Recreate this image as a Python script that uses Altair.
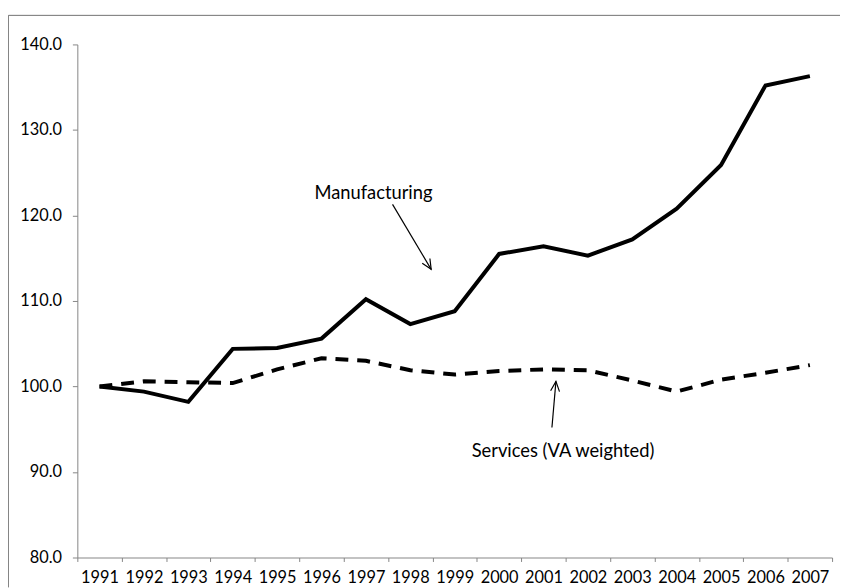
import altair as alt
import pandas as pd

years = [str(y) for y in range(1991, 2008)]
manufacturing = [100.0, 99.4, 98.2, 104.4, 104.5, 105.6, 110.2, 107.3, 108.8,
                 115.5, 116.4, 115.3, 117.2, 120.8, 125.9, 135.2, 136.3]
services = [100.0, 100.6, 100.5, 100.4, 102.0, 103.3, 103.0, 101.9, 101.4,
            101.8, 102.0, 101.9, 100.7, 99.4, 100.8, 101.6, 102.5]
y_ticks = [80, 90, 100, 110, 120, 130, 140]

# annotations (x in year units, y in index units)
label_text = ["Manufacturing", "Services (VA weighted)"]
label_x = [1997.17, 2001.44]
label_y = [122.6, 92.4]
arrow_x1 = [1997.6, 2001.19]
arrow_y1 = [121.3, 95.2]
arrow_x2 = [1998.47, 2001.28]
arrow_y2 = [113.7, 100.6]
arrow_angle = [59, 275]

FONT = "Lato"
GRAY = "#868686"
W, H = 762, 518

df = pd.DataFrame({"year": years * 2,
                   "value": manufacturing + services,
                   "series": ["Manufacturing"] * len(years) + ["Services"] * len(years)})

ydom = alt.Scale(domain=[80, 140], nice=False, zero=False)

xband = alt.X("year:O",
              scale=alt.Scale(type="band", paddingInner=0, paddingOuter=0),
              bandPosition=0.5,
              axis=alt.Axis(title=None, labelAngle=0, tickBand="extent", tickSize=4,
                            labelPadding=8, domainColor=GRAY, tickColor=GRAY,
                            labelColor="black", labelFont=FONT, labelFontSize=16.5,
                            grid=False))
yaxis = alt.Axis(title=None, values=y_ticks, format=".1f", tickSize=5,
                 labelPadding=11, domainColor=GRAY, tickColor=GRAY,
                 labelColor="black", labelFont=FONT, labelFontSize=16.5,
                 grid=False)
yax = alt.Y("value:Q", scale=ydom, axis=yaxis)

manu = alt.Chart(df[df.series == "Manufacturing"]).mark_line(
    color="black", strokeWidth=4, strokeJoin="miter").encode(x=xband, y=yax)
serv = alt.Chart(df[df.series == "Services"]).mark_line(
    color="black", strokeWidth=4, strokeDash=[13, 9], strokeCap="butt").encode(x=xband, y=yax)

ann_df = pd.DataFrame({"text": label_text, "lx": label_x, "ly": label_y,
                       "x1": arrow_x1, "y1": arrow_y1, "x2": arrow_x2, "y2": arrow_y2,
                       "ang": arrow_angle})
xq = alt.Scale(domain=[1990.5, 2007.5], nice=False, zero=False)

texts = alt.Chart(ann_df).mark_text(font=FONT, fontSize=18.5, color="black",
                                    align="center", baseline="middle").encode(
    x=alt.X("lx:Q", scale=xq, axis=None),
    y=alt.Y("ly:Q", scale=ydom, axis=yaxis),
    text="text:N")
shafts = alt.Chart(ann_df).mark_rule(color="black", strokeWidth=1.2).encode(
    x=alt.X("x1:Q", scale=xq, axis=None), x2="x2:Q",
    y=alt.Y("y1:Q", scale=ydom, axis=yaxis), y2="y2:Q")
heads = alt.Chart(ann_df).mark_point(
    shape="M-1,-0.45L0,0L-1,0.45", filled=False, color="black", strokeWidth=1.2,
    size=400, opacity=1).encode(
    x=alt.X("x2:Q", scale=xq, axis=None),
    y=alt.Y("y2:Q", scale=ydom, axis=yaxis),
    angle=alt.Angle("ang:Q", scale=None))

frame_top = alt.Chart(ann_df).mark_rule(color=GRAY, strokeWidth=1).encode(
    x=alt.value(-69.5), x2=alt.value(W + 10), y=alt.value(-29.3))
frame_left = alt.Chart(ann_df).mark_rule(color=GRAY, strokeWidth=1).encode(
    x=alt.value(-69.5), y=alt.value(-29.3), y2=alt.value(H + 30))

main = alt.layer(manu, serv)
ann = alt.layer(shafts, heads, texts)

chart = alt.layer(main, ann, frame_top, frame_left).resolve_scale(x="independent").properties(
    width=W, height=H,
    autosize=alt.AutoSizeParams(type="none"),
    padding={"left": 70, "top": 34, "right": 8, "bottom": 28},
    background="white",
).configure_view(stroke=None)

chart.save("out.html", embed_options={"renderer": "svg", "actions": False})
